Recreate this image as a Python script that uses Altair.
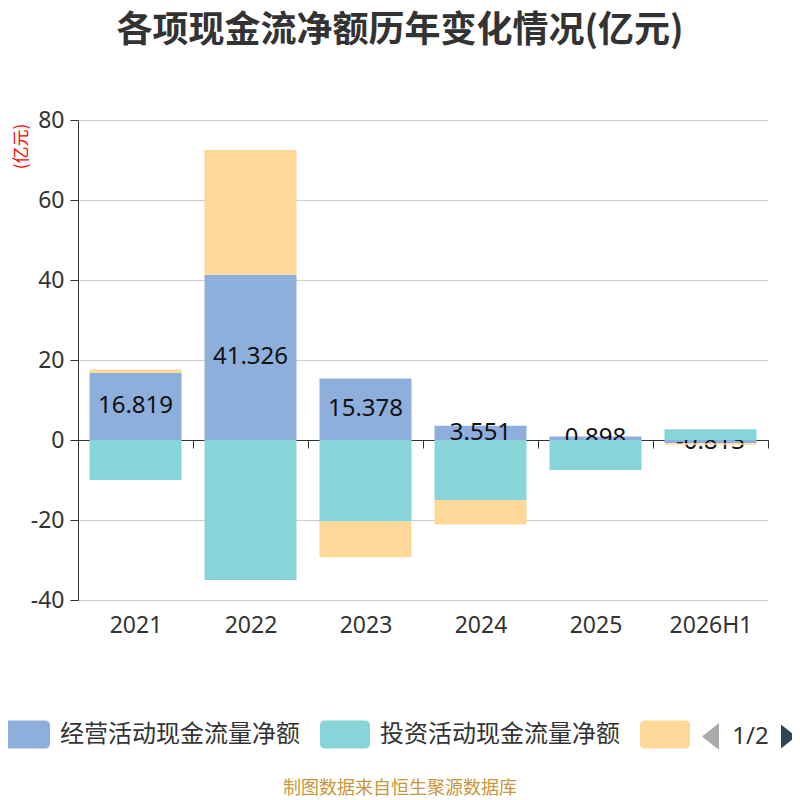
import altair as alt
import pandas as pd

years = ["2021", "2022", "2023", "2024", "2025", "2026H1"]
series = ["经营活动现金流量净额", "投资活动现金流量净额", "筹资活动现金流量净额"]
operating = [16.819, 41.326, 15.378, 3.551, 0.898, -0.813]
investing = [-10.0, -35.0, -20.4, -15.0, -7.5, 2.7]
financing = [0.8, 31.2, -8.9, -6.1, 0.0, -0.4]
colors = ["#8eaedb", "#87d5d8", "#fed899"]
y_ticks = [-40, -20, 0, 20, 40, 60, 80]

rows = []
for si, (name, vals) in enumerate(zip(series, [operating, investing, financing])):
    for yr, v in zip(years, vals):
        rows.append({"year": yr, "series": name, "idx": si, "value": v})
df = pd.DataFrame(rows)

W, H = 690, 480
ymin, ymax = min(y_ticks), max(y_ticks)
zero_offset = -H * (0 - ymin) / (ymax - ymin)

CJK = "Noto Sans CJK SC"
NUM = "Noto Sans"

xenc = alt.X("year:N", sort=years,
             scale=alt.Scale(paddingInner=0, paddingOuter=0),
             axis=alt.Axis(title=None, orient="bottom", offset=zero_offset,
                           domain=True, domainColor="#333", domainWidth=1,
                           ticks=True, tickSize=8, tickColor="#333", tickBand="extent",
                           labelAngle=0, labelFont=NUM, labelFontSize=23, labelColor="#333",
                           labelBaseline="middle", labelPadding=177, grid=False))
yenc_axis = alt.Axis(values=y_ticks, title="(亿元)", titleColor="#ff0000", titleFont=CJK,
                     titleFontSize=17, titleFontWeight="normal", titleAngle=270,
                     titleX=-57, titleY=26, titleAlign="center", titleBaseline="middle",
                     domain=True, domainColor="#333", tickColor="#333", tickSize=8,
                     labelFont=NUM, labelFontSize=23, labelColor="#333", labelPadding=6,
                     labelExpr="replace(datum.label, '\u2212', '-')",
                     grid=True, gridColor="#cccccc", gridWidth=1)
yscale = alt.Scale(domain=[ymin, ymax], nice=False)

color_scale = alt.Scale(domain=series, range=colors)

base = alt.Chart(df).transform_stack(
    stack="value", groupby=["year"], as_=["v0", "v1"],
    sort=[alt.SortField("idx", order="ascending")], offset="zero")

legend = alt.Legend(title=None, orient="none", legendX=-78, legendY=589.5,
                    direction="horizontal", columns=3,
                    symbolType="M-0.8,-0.56H0.8Q1,-0.56 1,-0.36V0.36Q1,0.56 0.8,0.56H-0.8Q-1,0.56 -1,0.36V-0.36Q-1,-0.56 -0.8,-0.56Z",
                    symbolSize=2500, symbolStrokeWidth=0, symbolOpacity=1,
                    labelFont=CJK, labelFontSize=24, labelColor="#333", labelOffset=10,
                    labelLimit=400, columnPadding=20, padding=0,
                    labelExpr="datum.label == '筹资活动现金流量净额' ? '' : datum.label")

bars_op = base.transform_filter("datum.idx == 0").mark_bar(
    width=alt.RelativeBandSize(0.8)).encode(
    x=xenc,
    y=alt.Y("v0:Q", scale=yscale, axis=yenc_axis),
    y2="v1:Q",
    color=alt.Color("series:N", scale=color_scale, legend=legend),
)

labels = base.transform_filter("datum.idx == 0").transform_calculate(
    mid="(datum.v0 + datum.v1) / 2",
    lbl="replace(format(datum.value, '.3f'), '\u2212', '-')").mark_text(
    font=NUM, fontSize=24, color="#111", baseline="middle", align="center").encode(
    x=alt.X("year:N", sort=years),
    y=alt.Y("mid:Q", scale=yscale),
    text="lbl:N",
)

bars_rest = base.transform_filter("datum.idx > 0").mark_bar(
    width=alt.RelativeBandSize(0.8)).encode(
    x=alt.X("year:N", sort=years),
    y=alt.Y("v0:Q", scale=yscale),
    y2="v1:Q",
    color=alt.Color("series:N", scale=color_scale, legend=None),
)

pager_df = pd.DataFrame({"t": ["1/2"]})
pager_text = alt.Chart(pager_df).mark_text(
    font=NUM, fontSize=24, color="#333", baseline="middle", align="center").encode(
    text="t:N", x=alt.value(672.5), y=alt.value(616.5))
arrow_left = alt.Chart(pager_df).mark_point(
    shape="M1,-1.6L-1,0L1,1.6Z", size=289, filled=True, opacity=1, color="#aaaaaa", strokeWidth=0).encode(
    x=alt.value(632.5), y=alt.value(616.5))
arrow_right = alt.Chart(pager_df).mark_point(
    shape="M-1,-1.6L1,0L-1,1.6Z", size=225, filled=True, opacity=1, color="#2f4554", strokeWidth=0).encode(
    x=alt.value(710.5), y=alt.value(616.5))

footer_df = pd.DataFrame({"t": ["制图数据来自恒生聚源数据库"]})
footer = alt.Chart(footer_df).mark_text(
    font=CJK, fontSize=18, color="#c8963c", baseline="middle", align="center").encode(
    text="t:N", x=alt.value(322), y=alt.value(669))

chart = alt.layer(bars_op, labels, bars_rest, pager_text, arrow_left, arrow_right, footer).properties(
    width=W, height=H,
    title=alt.Title("各项现金流净额历年变化情况(亿元)", font=CJK, fontSize=36, fontWeight="bold",
                    color="#333", anchor="middle", dx=-23, offset=59),
    padding={"left": 70, "top": 112, "right": 24, "bottom": 200},
    autosize=alt.AutoSizeParams(type="none"),
).resolve_scale(color="shared").configure(
    background="white", view=alt.ViewConfig(stroke="transparent"))

chart.save("out.html", embed_options={"renderer": "svg", "actions": False})
